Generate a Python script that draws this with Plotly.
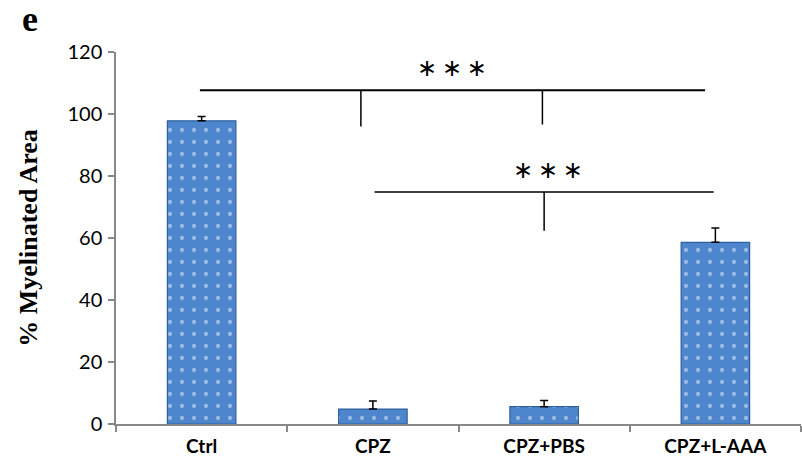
import plotly.graph_objects as go

categories = ["Ctrl", "CPZ", "CPZ+PBS", "CPZ+L-AAA"]
values = [97.8, 4.8, 5.6, 58.6]
errors = [1.4, 2.6, 2.0, 4.6]
y_ticks = [0, 20, 40, 60, 80, 100, 120]

# significance brackets
sig1_x = [-0.01, 2.94]
sig1_y = 107.7
sig1_drops_x = [0.93, 1.99]
sig1_drops_bottom = [96.0, 96.6]
sig2_x = [1.01, 2.99]
sig2_y = 74.8
sig2_drops_x = [2.0]
sig2_drops_bottom = [62.3]
sig_label = "\u2217\u2009\u2217\u2009\u2217"

L, R, T, B = 116, 1, 52, 41
W, H = 802, 465

fig = go.Figure()
fig.add_trace(go.Bar(
    x=categories, y=values, width=0.4,
    marker=dict(color="#4d86cc", line=dict(color="#2f5f9e", width=1.2),
                pattern=dict(shape=".", fgcolor="#e3ecf8", bgcolor="#4d86cc",
                             size=12, solidity=0.1)),
    error_y=dict(type="data", symmetric=False, array=errors,
                 arrayminus=[0]*len(errors), color="black", thickness=1.5, width=4),
))

for x0, x1, y, w in [(sig1_x[0], sig1_x[1], sig1_y, 2), (sig2_x[0], sig2_x[1], sig2_y, 1.5)]:
    fig.add_shape(type="line", xref="x", yref="y", x0=x0, x1=x1, y0=y, y1=y,
                  line=dict(color="black", width=w))
for xd, yb in zip(sig1_drops_x, sig1_drops_bottom):
    fig.add_shape(type="line", xref="x", yref="y", x0=xd, x1=xd, y0=sig1_y, y1=yb,
                  line=dict(color="black", width=1.5))
for xd, yb in zip(sig2_drops_x, sig2_drops_bottom):
    fig.add_shape(type="line", xref="x", yref="y", x0=xd, x1=xd, y0=sig2_y, y1=yb,
                  line=dict(color="black", width=1.5))

star_font = dict(family="DejaVu Sans", size=24, color="black")
fig.add_annotation(x=1.46, y=sig1_y, xref="x", yref="y", text=sig_label,
                   showarrow=False, yanchor="bottom", yshift=6, font=star_font)
fig.add_annotation(x=2.02, y=sig2_y, xref="x", yref="y", text=sig_label,
                   showarrow=False, yanchor="bottom", yshift=6, font=star_font)

fig.update_layout(
    width=W, height=H,
    margin=dict(l=L, r=R, t=T, b=B, autoexpand=False),
    plot_bgcolor="white", paper_bgcolor="white",
    showlegend=False,
    title=dict(text="<b>e</b>", x=30 / W, xanchor="center", xref="container",
               y=1 - 6 / H, yanchor="top", yref="container", pad=dict(t=0, b=0, l=0, r=0),
               font=dict(family="Liberation Serif", size=36, color="black")),
    xaxis=dict(type="category", tickson="boundaries", ticks="outside", ticklen=6,
               tickcolor="#888888", tickwidth=1.5, showline=True, linecolor="#888888",
               linewidth=1.5, showgrid=False, ticklabelstandoff=4,
               tickfont=dict(family="Lato", size=19, color="black", weight="bold"),
               range=[-0.5, 3.5]),
    yaxis=dict(range=[0, 120], tickvals=y_ticks, ticks="outside", ticklen=6,
               tickcolor="#888888", tickwidth=1.5, showline=True, linecolor="#888888",
               linewidth=1.5, showgrid=False, zeroline=False, ticklabelstandoff=2,
               tickfont=dict(family="Lato", size=20, color="black"),
               title=dict(text="<b>% Myelinated Area</b>", standoff=22,
                          font=dict(family="Liberation Serif", size=26, color="black"))),
)
fig.write_html("out.html", config={"displayModeBar": False},
               post_script="document.body.style.margin='0';")
